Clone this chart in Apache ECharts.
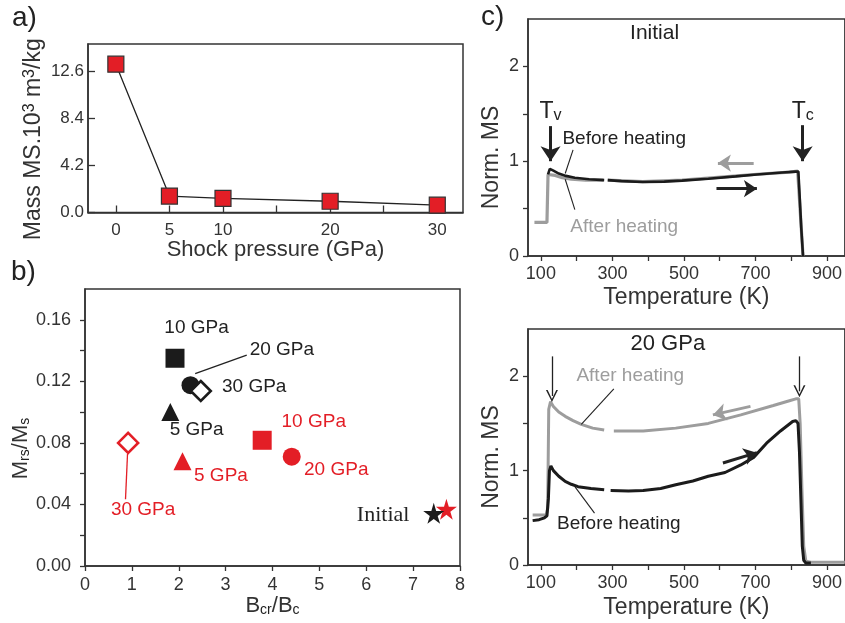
<!DOCTYPE html>
<html>
<head>
<meta charset="utf-8">
<script src="https://cdn.jsdelivr.net/npm/echarts@6/dist/echarts.min.js"></script>
<style>html,body{margin:0;padding:0;background:#fff;}#c{width:845px;height:623px;}</style>
</head>
<body>
<div id="c"></div>
<script>
// ---------- data ----------
// panel a
const aPressure = [0, 5, 10, 20, 30];
const aMassMS = [13.2, 1.46, 1.25, 1.0, 0.65];
const aXTicks = [0, 5, 10, 15, 20, 25, 30];
const aXLabels = [0, 5, 10, 20, 30];
const aYLabels = [0, 4.2, 8.4, 12.6];
// panel b (order: 5, 10, 20, 30 GPa)
const bPressures = ['5 GPa', '10 GPa', '20 GPa', '30 GPa'];
const bBlackBcr = [1.82, 1.92, 2.25, 2.47];
const bBlackMrs = [0.100, 0.135, 0.1175, 0.1137];
const bRedBcr = [2.08, 3.78, 4.41, 0.92];
const bRedMrs = [0.068, 0.0817, 0.071, 0.080];
const bInitialBcr = [7.44, 7.71];   // black, red
const bInitialMrs = [0.0342, 0.0369];
const bXTicks = [0, 1, 2, 3, 4, 5, 6, 7, 8];
const bYTicks = [0, 0.02, 0.04, 0.06, 0.08, 0.10, 0.12, 0.14, 0.16];
const bYLabels = [0, 0.04, 0.08, 0.12, 0.16];
// panel c
const cXTicks = [100, 200, 300, 400, 500, 600, 700, 800, 900];
const cXLabels = [100, 300, 500, 700, 900];
const cYTicks = [0, 0.5, 1, 1.5, 2];
const cYLabels = [0, 1, 2];
const cInitBefore = [[120,0.86],[125,0.92],[135,0.9],[150,0.87],[170,0.845],[195,0.825],[235,0.81],[277,0.80],[282,null],
  [287,0.80],[325,0.79],[385,0.78],[445,0.785],[495,0.795],[568,0.815],[645,0.84],[704,0.86],[775,0.88],[812,0.89],[820,0.89],[824,0.6],[828,0.3],[833,0.0]];
const cInitAfter = [[82,0.355],[117,0.355],[120,0.86],[125,0.88],[140,0.85],[160,0.825],[185,0.81],[225,0.80],[275,0.80],[282,null],
  [287,0.80],[385,0.785],[495,0.80],[595,0.83],[695,0.86],[795,0.885],[818,0.895],[823,0.6],[828,0.3],[833,0.0]];
const c20Before = [[77,0.47],[95,0.48],[110,0.5],[117,0.52],[121,0.7],[124,1.0],[128,1.05],[135,1.0],[150,0.94],[168,0.885],[185,0.855],[204,0.83],[240,0.81],[277,0.796],[285,null],
  [295,0.79],[345,0.785],[386,0.79],[435,0.81],[477,0.85],[525,0.89],[568,0.94],[615,0.98],[659,1.06],[695,1.14],[731,1.29],[770,1.42],[804,1.52],[813,1.53],[819,1.5],[823,1.2],[827,0.7],[831,0.2],[835,0.05],[841,0.02],[855,0.02]];
const c20After = [[77,0.53],[115,0.53],[119,0.6],[122,1.65],[127,1.73],[135,1.68],[150,1.62],[168,1.575],[190,1.53],[213,1.49],[245,1.45],[277,1.43],[290,null],
  [304,1.42],[386,1.42],[477,1.45],[568,1.50],[659,1.59],[750,1.69],[795,1.74],[813,1.76],[821,1.76],[825,1.5],[830,0.8],[835,0.2],[841,0.04],[855,0.03],[950,0.03]];

// ---------- styles ----------
const FONT = 'Liberation Sans, Arial, sans-serif';
const RED = '#e31e26';
const BLK = '#1b1b1b';
const GRAY = '#9d9d9d';
const AX = '#333';

function gridBox(g) { return Object.assign({show: true, borderColor: AX, borderWidth: 1.5, backgroundColor: 'transparent'}, g); }

function valAxis(o) {
  return Object.assign({
    type: 'value', splitLine: {show: false},
    axisLine: {show: true, onZero: false, lineStyle: {color: AX, width: 1.5}},
    nameLocation: 'middle'
  }, o);
}

const supRich = {s: {fontSize: 16, verticalAlign: 'top', fontFamily: FONT, color: '#222'}};
const subRich = {sub: {fontSize: 14, verticalAlign: 'bottom', fontFamily: FONT, color: '#222'}};

function annot(xi, yi, items) {
  return {
    type: 'scatter', xAxisIndex: xi, yAxisIndex: yi, symbolSize: 0, silent: true, z: 10,
    itemStyle: {opacity: 1},
    data: items.map(it => ({
      value: it.pos,
      label: Object.assign({show: true, position: 'inside', formatter: it.text, color: it.color || '#222',
        opacity: 1, fontSize: it.size || 19, fontFamily: it.font || FONT, align: 'center', verticalAlign: 'middle'}, it.extra || {})
    }))
  };
}
function lineSet(xi, yi, items, symbol) {
  return {
    type: 'lines', coordinateSystem: 'cartesian2d', xAxisIndex: xi, yAxisIndex: yi, silent: true, z: 9,
    symbol: symbol || ['none', 'none'],
    data: items.map(it => ({coords: it.c, lineStyle: {color: it.color || '#222', width: it.w || 1.2, opacity: 1}, symbolSize: it.ss}))
  };
}
const vHead = 'path://M0,10 L5,0 L10,10 L8.6,10 L5,2.6 L1.4,10 Z';
const STAR = 'path://M50,0 L61,35 L98,35 L68,57 L79,91 L50,70 L21,91 L32,57 L2,35 L39,35 Z';
const subTC = {rich: {sub: {fontSize: 16, verticalAlign: 'bottom', color: '#222'}}};

const option = {
  animation: false,
  textStyle: {fontFamily: FONT},
  grid: [
    gridBox({left: 88, top: 44, width: 375, height: 168.5}),
    gridBox({left: 85, top: 289, width: 375, height: 277}),
    gridBox({left: 528, top: 19, width: 325, height: 237}),
    gridBox({left: 528, top: 329, width: 325, height: 236})
  ],
  xAxis: [
    valAxis({gridIndex: 0, min: -2.6, max: 32.4,
      axisTick: {inside: true, length: 7, customValues: aXTicks, lineStyle: {color: AX, width: 1.3}},
      axisLabel: {customValues: aXLabels, color: '#333', fontSize: 17, margin: 9},
      name: 'Shock pressure (GPa)', nameGap: 16, nameTextStyle: {fontSize: 22, color: '#333'}}),
    valAxis({gridIndex: 1, min: 0, max: 8,
      axisTick: {length: 5, customValues: bXTicks, lineStyle: {color: AX, width: 1.3}},
      axisLabel: {customValues: bXTicks, color: '#333', fontSize: 18, margin: 10},
      name: 'B{sub|cr}/B{sub|c}', nameGap: 27, nameTextStyle: {fontSize: 22, color: '#333', rich: subRich}}),
    valAxis({gridIndex: 2, min: 64, max: 950,
      axisTick: {length: 5, customValues: cXTicks, lineStyle: {color: AX, width: 1.3}},
      axisLabel: {customValues: cXLabels, color: '#333', fontSize: 18, margin: 9},
      name: 'Temperature (K)', nameGap: 30, nameTextStyle: {fontSize: 23, color: '#333'}}),
    valAxis({gridIndex: 3, min: 64, max: 950,
      axisTick: {length: 5, customValues: cXTicks, lineStyle: {color: AX, width: 1.3}},
      axisLabel: {customValues: cXLabels, color: '#333', fontSize: 18, margin: 9},
      name: 'Temperature (K)', nameGap: 31, nameTextStyle: {fontSize: 23, color: '#333'}})
  ],
  yAxis: [
    valAxis({gridIndex: 0, min: 0, max: 15,
      axisTick: {inside: true, length: 7, customValues: aYLabels, lineStyle: {color: AX, width: 1.3}},
      axisLabel: {customValues: aYLabels, color: '#333', fontSize: 17, margin: 4, formatter: v => v.toFixed(1)},
      name: 'Mass MS.10{s|3} m{s|3}/kg', nameGap: 43,
      nameTextStyle: {fontSize: 23, color: '#333', rich: supRich, padding: [0, 22, 0, 0]}}),
    valAxis({gridIndex: 1, min: 0, max: 0.18,
      axisTick: {length: 5, customValues: bYTicks, lineStyle: {color: AX, width: 1.3}},
      axisLabel: {customValues: bYLabels, color: '#333', fontSize: 18, margin: 14, formatter: v => v.toFixed(2)},
      name: 'M{sub|rs}/M{sub|s}', nameGap: 53,
      nameTextStyle: {fontSize: 22, color: '#333', rich: subRich, padding: [0, 42, 0, 0]}}),
    valAxis({gridIndex: 2, min: 0, max: 2.5,
      axisTick: {length: 5, customValues: cYTicks, lineStyle: {color: AX, width: 1.3}},
      axisLabel: {customValues: cYLabels, color: '#333', fontSize: 18, margin: 9},
      name: 'Norm. MS', nameGap: 25, nameTextStyle: {fontSize: 23, color: '#333', padding: [0, 40, 0, 0]}}),
    valAxis({gridIndex: 3, min: 0, max: 2.5,
      axisTick: {length: 5, customValues: cYTicks, lineStyle: {color: AX, width: 1.3}},
      axisLabel: {customValues: cYLabels, color: '#333', fontSize: 18, margin: 9},
      name: 'Norm. MS', nameGap: 25, nameTextStyle: {fontSize: 23, color: '#333', padding: [0, 20, 0, 0]}})
  ],
  series: [
    // ---- panel a ----
    {type: 'line', xAxisIndex: 0, yAxisIndex: 0, data: aPressure.map((p, i) => [p, aMassMS[i]]),
      symbol: 'rect', symbolSize: 16, lineStyle: {color: '#222', width: 1.3},
      itemStyle: {color: RED, borderColor: '#333', borderWidth: 1.2, opacity: 1}},
    // ---- panel b markers ----
    ...['triangle', 'rect', 'circle', 'diamond'].map((sym, i) => ({
      type: 'scatter', xAxisIndex: 1, yAxisIndex: 1, symbol: sym, name: 'black ' + bPressures[i],
      symbolSize: sym === 'diamond' ? 20 : (sym === 'rect' ? 19 : 18),
      data: [[bBlackBcr[i], bBlackMrs[i]]],
      itemStyle: sym === 'diamond' ? {color: '#fff', borderColor: BLK, borderWidth: 2.6, opacity: 1} : {color: BLK, opacity: 1}
    })),
    ...['triangle', 'rect', 'circle', 'diamond'].map((sym, i) => ({
      type: 'scatter', xAxisIndex: 1, yAxisIndex: 1, symbol: sym, name: 'red ' + bPressures[i],
      symbolSize: sym === 'diamond' ? 20 : (sym === 'rect' ? 19 : 18),
      data: [[bRedBcr[i], bRedMrs[i]]],
      itemStyle: sym === 'diamond' ? {color: '#fff', borderColor: RED, borderWidth: 2.6, opacity: 1} : {color: RED, opacity: 1}
    })),
    {type: 'scatter', xAxisIndex: 1, yAxisIndex: 1, name: 'initial red', symbol: STAR, symbolSize: 21,
      data: [[bInitialBcr[1], bInitialMrs[1]]], itemStyle: {color: RED, opacity: 1}},
    {type: 'scatter', xAxisIndex: 1, yAxisIndex: 1, name: 'initial black', symbol: STAR, symbolSize: 21,
      data: [[bInitialBcr[0], bInitialMrs[0]]], itemStyle: {color: BLK, opacity: 1}},
    annot(1, 1, [
      {pos: [2.38, 0.1547], text: '10 GPa'},
      {pos: [4.2, 0.1405], text: '20 GPa'},
      {pos: [3.61, 0.1163], text: '30 GPa'},
      {pos: [2.38, 0.0887], text: '5 GPa'},
      {pos: [4.88, 0.0937], text: '10 GPa', color: RED},
      {pos: [5.36, 0.0625], text: '20 GPa', color: RED},
      {pos: [2.9, 0.0586], text: '5 GPa', color: RED},
      {pos: [1.24, 0.0364], text: '30 GPa', color: RED},
      {pos: [6.36, 0.0331], text: 'Initial', size: 22, font: 'Liberation Serif, Times New Roman, serif'}
    ]),
    lineSet(1, 1, [
      {c: [[2.35, 0.125], [3.45, 0.137]], color: '#222', w: 1.3},
      {c: [[0.907, 0.0728], [0.864, 0.0434]], color: RED, w: 1.3}
    ]),
    // ---- panel c top ----
    {type: 'line', xAxisIndex: 2, yAxisIndex: 2, data: cInitAfter, symbol: 'none', connectNulls: false,
      lineStyle: {color: GRAY, width: 3.2}},
    {type: 'line', xAxisIndex: 2, yAxisIndex: 2, data: cInitBefore, symbol: 'none', connectNulls: false,
      lineStyle: {color: BLK, width: 2.6}},
    annot(2, 2, [
      {pos: [418, 2.35], text: 'Initial', size: 21},
      {pos: [127, 1.52], text: 'T{sub|v}', size: 23, extra: subTC},
      {pos: [832, 1.52], text: 'T{sub|c}', size: 23, extra: subTC},
      {pos: [333, 1.24], text: 'Before heating'},
      {pos: [333, 0.31], text: 'After heating', color: GRAY}
    ]),
    lineSet(2, 2, [
      {c: [[190, 1.12], [168, 0.87]], color: '#222', w: 1.1},
      {c: [[195, 0.49], [168, 0.81]], color: '#222', w: 1.1}
    ]),
    lineSet(2, 2, [
      {c: [[127, 1.37], [127, 1.0]], color: '#222', w: 3, ss: [13, 15]},
      {c: [[832, 1.38], [832, 1.0]], color: '#222', w: 3, ss: [13, 15]},
      {c: [[695, 0.98], [595, 0.98]], color: GRAY, w: 3, ss: [11, 13]},
      {c: [[591, 0.71], [704, 0.71]], color: '#222', w: 3, ss: [11, 13]}
    ], ['none', 'arrow']),
    // ---- panel c bottom ----
    {type: 'line', xAxisIndex: 3, yAxisIndex: 3, data: c20After, symbol: 'none', connectNulls: false,
      lineStyle: {color: GRAY, width: 3}},
    {type: 'line', xAxisIndex: 3, yAxisIndex: 3, data: c20Before, symbol: 'none', connectNulls: false,
      lineStyle: {color: BLK, width: 3}},
    annot(3, 3, [
      {pos: [455, 2.34], text: '20 GPa', size: 22},
      {pos: [350, 2.0], text: 'After heating', color: GRAY},
      {pos: [318, 0.435], text: 'Before heating'}
    ]),
    lineSet(3, 3, [
      {c: [[304, 1.865], [213, 1.49]], color: '#222', w: 1.1},
      {c: [[250, 0.55], [195, 0.83]], color: '#222', w: 1.1}
    ]),
    lineSet(3, 3, [
      {c: [[131, 2.21], [131, 1.79]], color: '#222', w: 1.3, ss: [11, 12]},
      {c: [[823, 2.21], [823, 1.84]], color: '#222', w: 1.3, ss: [11, 12]}
    ], ['none', vHead]),
    lineSet(3, 3, [
      {c: [[686, 1.68], [581, 1.59]], color: GRAY, w: 3, ss: [11, 13]},
      {c: [[609, 1.08], [704, 1.19]], color: '#222', w: 3, ss: [11, 13]}
    ], ['none', 'arrow'])
  ],
  graphic: [
    {type: 'text', left: 12, top: 4, style: {text: 'a)', fontSize: 28, fill: '#222', fontFamily: FONT}},
    {type: 'text', left: 11, top: 258, style: {text: 'b)', fontSize: 28, fill: '#222', fontFamily: FONT}},
    {type: 'text', left: 481, top: 3, style: {text: 'c)', fontSize: 28, fill: '#222', fontFamily: FONT}}
  ]
};

const chart = echarts.init(document.getElementById('c'), null, {renderer: 'canvas'});
chart.setOption(option);
</script>
</body>
</html>
